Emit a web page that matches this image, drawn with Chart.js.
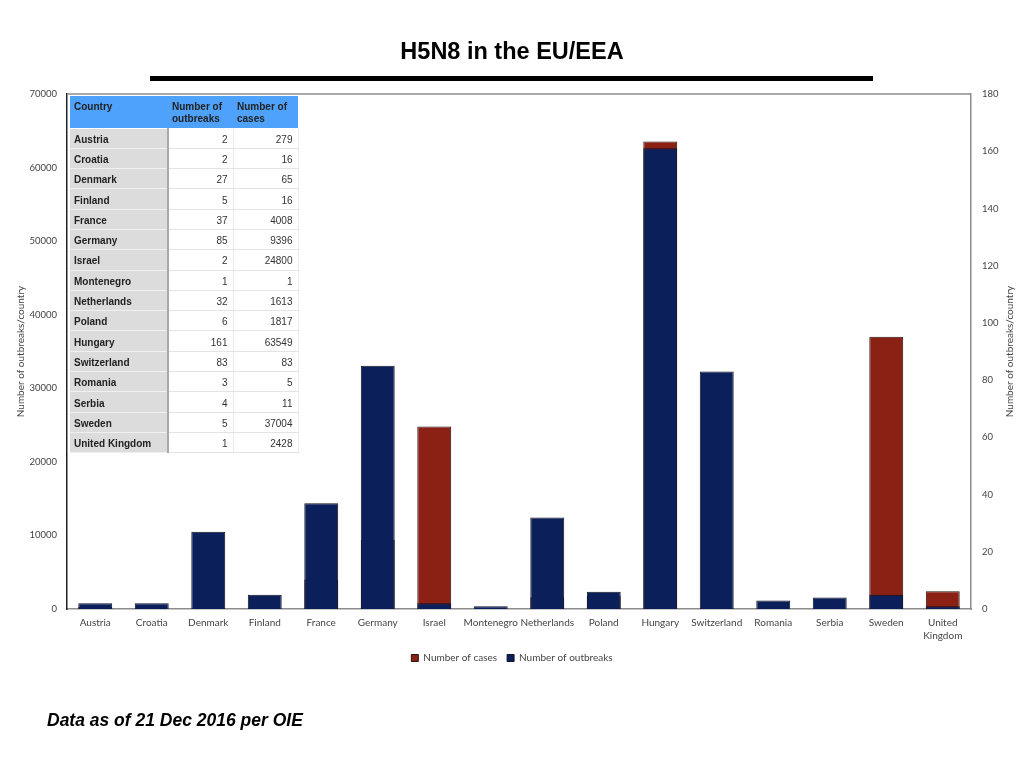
<!DOCTYPE html>
<html>
<head>
<meta charset="utf-8">
<title>H5N8 in the EU/EEA</title>
<script src="https://cdn.jsdelivr.net/npm/chart.js@4.4.1/dist/chart.umd.min.js"></script>
<style>
  html, body { margin: 0; padding: 0; background: #fff; }
  #page { position: relative; width: 1024px; height: 768px; overflow: hidden; }
  #chart { position: absolute; left: 0; top: 0; }
  h1 {
    position: absolute; left: 0; top: 36px; width: 1024px; margin: 0;
    text-align: center; font: bold 23.5px "Liberation Sans", Arial, sans-serif;
    line-height: 30px; color: #000;
  }
  .rule { position: absolute; left: 150px; top: 76px; width: 723px; height: 5px; background: #000; }
  .note {
    position: absolute; left: 47px; top: 710px; margin: 0;
    font: italic bold 17.5px "Liberation Sans", Arial, sans-serif; line-height: 20px;
  }
  #tbl {
    position: absolute; left: 70px; top: 96px; border-collapse: collapse;
    font: 10px "Liberation Sans", Arial, sans-serif; color: #222;
  }
  #tbl th {
    background: #4ea2fb; height: 32px; padding: 5px 4px 0 4px; box-sizing: border-box;
    text-align: left; vertical-align: top; font-weight: bold; line-height: 12px;
    border-bottom: 1px solid #fff;
  }
  #tbl td { height: 20.3px; padding: 3px 5px 0 4px; box-sizing: border-box; line-height: 12px; }
  #tbl td.c {
    width: 98px; background: #dcdcdc; font-weight: bold;
    border-right: 2px solid #a9a9a9; border-bottom: 1px solid #f0f0f0;
  }
  #tbl td.n {
    width: 65px; text-align: right; background: #fff; color: #333;
    border-bottom: 1px solid #e4e4e4; border-right: 1px solid #ececec;
  }
</style>
</head>
<body>
<div id="page">
  <canvas id="chart" width="1024" height="768"></canvas>
  <h1>H5N8 in the EU/EEA</h1>
  <div class="rule"></div>
  <table id="tbl">
    <thead><tr><th style="width:98px">Country</th><th style="width:65px">Number of outbreaks</th><th style="width:65px">Number of cases</th></tr></thead>
    <tbody></tbody>
  </table>
  <p class="note">Data as of 21 Dec 2016 per OIE</p>
</div>
<script>
// Data
const countries = ['Austria', 'Croatia', 'Denmark', 'Finland', 'France', 'Germany', 'Israel', 'Montenegro',
    'Netherlands', 'Poland', 'Hungary', 'Switzerland', 'Romania', 'Serbia', 'Sweden', 'United Kingdom'];
const outbreaks = [2, 2, 27, 5, 37, 85, 2, 1, 32, 6, 161, 83, 3, 4, 5, 1];
const cases = [279, 16, 65, 16, 4008, 9396, 24800, 1, 1613, 1817, 63549, 83, 5, 11, 37004, 2428];
const casesTicks = [0, 10000, 20000, 30000, 40000, 50000, 60000, 70000];
const outbreakTicks = [0, 20, 40, 60, 80, 100, 120, 140, 160, 180];
const axisTitle = 'Number of outbreaks/country';

// Fill the table
const tbody = document.querySelector('#tbl tbody');
countries.forEach((c, i) => {
    const tr = document.createElement('tr');
    tr.innerHTML = '<td class="c">' + c + '</td><td class="n">' + outbreaks[i] + '</td><td class="n">' + cases[i] + '</td>';
    tbody.appendChild(tr);
});

// x labels, "United Kingdom" split in two lines
const xLabels = countries.map(c => c === 'United Kingdom' ? ['United', 'Kingdom'] : c);

const NAVY = '#0b1f5b';
const RED = '#8b2114';
const TXT = '#444';
const FONT = 'Lato';

// top edge of the plot box
const frameTop = {
    id: 'frameTop',
    beforeDatasetsDraw(chart) {
        const { ctx, chartArea } = chart;
        ctx.save();
        ctx.strokeStyle = '#8c8c8c';
        ctx.lineWidth = 1.5;
        ctx.beginPath();
        ctx.moveTo(chartArea.left, chartArea.top);
        ctx.lineTo(chartArea.right, chartArea.top);
        ctx.stroke();
        ctx.restore();
    }
};

// right axis title, reading bottom to top like the left one
const rightTitle = {
    id: 'rightTitle',
    afterDraw(chart) {
        const { ctx, chartArea } = chart;
        const sc = chart.scales.y2;
        ctx.save();
        ctx.translate(sc.right - 14, (chartArea.top + chartArea.bottom) / 2);
        ctx.rotate(-Math.PI / 2);
        ctx.font = '10px ' + FONT;
        ctx.fillStyle = TXT;
        ctx.textAlign = 'center';
        ctx.textBaseline = 'middle';
        ctx.fillText(axisTitle, 0, 0);
        ctx.restore();
    }
};

const plain = v => String(v);

new Chart(document.getElementById('chart'), {
    type: 'bar',
    data: {
        labels: xLabels,
        datasets: [{
            label: 'Number of cases',
            data: cases,
            yAxisID: 'y',
            backgroundColor: RED,
            borderColor: '#2a1410',
            borderWidth: 1,
            order: 1
        }, {
            label: 'Number of outbreaks',
            data: outbreaks,
            yAxisID: 'y2',
            backgroundColor: NAVY,
            borderColor: '#101420',
            borderWidth: 1,
            order: 0
        }]
    },
    options: {
        responsive: false,
        animation: false,
        layout: { padding: { top: 94, bottom: 95, left: 0, right: 0 } },
        datasets: { bar: { grouped: false, categoryPercentage: 1, barPercentage: 0.6 } },
        plugins: {
            legend: {
                position: 'bottom',
                labels: {
                    boxWidth: 7, boxHeight: 7, padding: 10,
                    color: TXT, font: { family: FONT, size: 10 },
                    sort: (a, b) => a.datasetIndex - b.datasetIndex
                }
            },
            tooltip: { enabled: false }
        },
        scales: {
            x: {
                grid: { display: false, drawTicks: false },
                border: { color: '#8c8c8c', width: 1.5 },
                ticks: { color: TXT, font: { family: FONT, size: 10, lineHeight: 1.3 }, padding: 7, maxRotation: 0, autoSkip: false },
                afterFit: s => { s.height = 34; }
            },
            y: {
                position: 'left',
                min: 0, max: 70000,
                grid: { display: false, drawTicks: false },
                border: { color: '#222', width: 1.5 },
                afterBuildTicks: s => { s.ticks = casesTicks.map(v => ({ value: v })); },
                ticks: { color: TXT, font: { family: FONT, size: 9.5 }, padding: 10, callback: plain },
                title: { display: true, text: axisTitle, color: TXT, font: { family: FONT, size: 10 }, padding: { top: 15, bottom: 0 } },
                afterFit: s => { s.width = 67; }
            },
            y2: {
                position: 'right',
                min: 0, max: 180,
                grid: { display: false, drawTicks: false },
                border: { color: '#8c8c8c', width: 1.5 },
                afterBuildTicks: s => { s.ticks = outbreakTicks.map(v => ({ value: v })); },
                ticks: { color: TXT, font: { family: FONT, size: 9.5 }, padding: 11, callback: plain },
                afterFit: s => { s.width = 53; }
            }
        }
    },
    plugins: [frameTop, rightTitle]
});
</script>
</body>
</html>
